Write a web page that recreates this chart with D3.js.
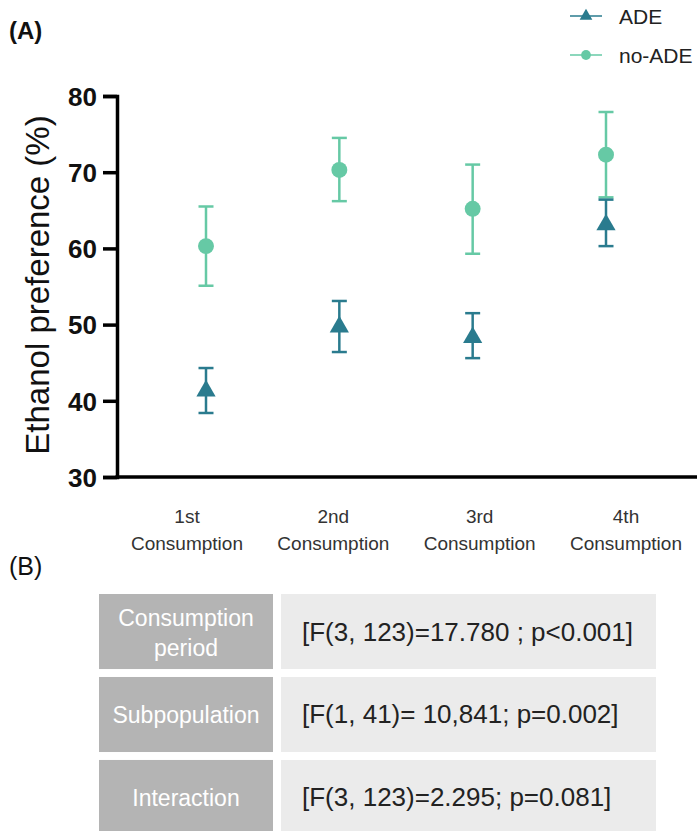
<!DOCTYPE html>
<html>
<head>
<meta charset="utf-8">
<script src="https://cdn.jsdelivr.net/npm/d3@7"></script>
<style>
  html, body { margin: 0; padding: 0; background: #fff; }
  svg { display: block; font-family: "Liberation Sans", Arial, sans-serif; }
</style>
</head>
<body>
<svg width="697" height="831"></svg>
<script>
// data
const periods = ["1st", "2nd", "3rd", "4th"];
const groups = ["ADE", "no-ADE"];
const adeMean = [41.3, 49.7, 48.3, 63.1];
const adeLow = [38.4, 46.4, 45.6, 60.3];
const adeHigh = [44.3, 53.1, 51.5, 66.4];
const noAdeMean = [60.3, 70.3, 65.2, 72.3];
const noAdeLow = [55.1, 66.2, 59.3, 66.7];
const noAdeHigh = [65.5, 74.5, 71.0, 77.9];
const yTicks = [30, 40, 50, 60, 70, 80];

const tableFactors = [["Consumption", "period"], ["Subpopulation"], ["Interaction"]];
const tableStats = [
  "[F(3, 123)=17.780 ; p<0.001]",
  "[F(1, 41)= 10,841; p=0.002]",
  "[F(3, 123)=2.295; p=0.081]"
];

const colADE = "#2a7b8e", colNo = "#66c9a5";

let svg = d3.select("svg");

const x = d3.scalePoint().domain(periods).range([206, 606]);
const xLab = d3.scalePoint().domain(periods).range([187, 626]);
const y = d3.scaleLinear().domain([30, 80]).range([477, 96]);

// panel letters
svg.append("text").attr("x", 9).attr("y", 39)
  .attr("font-size", 24).attr("font-weight", "bold").attr("fill", "#111").text("(A)");
svg.append("text").attr("x", 9).attr("y", 575)
  .attr("font-size", 25).attr("fill", "#111").text("(B)");

// y axis
const yAxis = svg.append("g").attr("transform", "translate(117,0)")
  .call(d3.axisLeft(y).tickValues(yTicks).tickSize(14).tickPadding(6).tickFormat(d3.format("d")));
yAxis.select(".domain").attr("stroke", "#000").attr("stroke-width", 3.5);
yAxis.selectAll(".tick line").attr("stroke", "#000").attr("stroke-width", 3.5);
yAxis.selectAll(".tick text").attr("font-size", 26).attr("font-weight", "bold")
  .attr("fill", "#111").attr("font-family", "Liberation Sans, Arial, sans-serif").attr("dy", "0.36em");

// x axis line
svg.append("line").attr("x1", 115.5).attr("x2", 697).attr("y1", y(30)).attr("y2", y(30))
  .attr("stroke", "#000").attr("stroke-width", 3.5);

svg.append("text")
  .attr("transform", "translate(49,285) rotate(-90)")
  .attr("text-anchor", "middle").attr("font-size", 33).attr("fill", "#111")
  .text("Ethanol preference (%)");

// category labels
const cat = svg.append("g").selectAll("text").data(periods).enter().append("text")
  .attr("text-anchor", "middle").attr("font-size", 19).attr("fill", "#333")
  .attr("x", d => xLab(d));
cat.append("tspan").attr("x", d => xLab(d)).attr("y", 523).text(d => d);
cat.append("tspan").attr("x", d => xLab(d)).attr("y", 550).text("Consumption");

// error bars + markers
const series = [
  { name: "no-ADE", mean: noAdeMean, lo: noAdeLow, hi: noAdeHigh, color: colNo, shape: d3.symbolCircle, size: 200 },
  { name: "ADE", mean: adeMean, lo: adeLow, hi: adeHigh, color: colADE, shape: d3.symbolTriangle, size: 160 }
];

series.forEach(s => {
  const g = svg.append("g");
  const rows = periods.map((p, i) => ({ p, m: s.mean[i], lo: s.lo[i], hi: s.hi[i] }));
  const eb = g.selectAll("g.eb").data(rows).enter().append("g")
    .attr("stroke", s.color).attr("stroke-width", 2.5);
  eb.append("line").attr("x1", d => x(d.p)).attr("x2", d => x(d.p))
    .attr("y1", d => y(d.lo)).attr("y2", d => y(d.hi));
  eb.append("line").attr("x1", d => x(d.p) - 7.5).attr("x2", d => x(d.p) + 7.5)
    .attr("y1", d => y(d.lo)).attr("y2", d => y(d.lo));
  eb.append("line").attr("x1", d => x(d.p) - 7.5).attr("x2", d => x(d.p) + 7.5)
    .attr("y1", d => y(d.hi)).attr("y2", d => y(d.hi));
  g.selectAll("path").data(rows).enter().append("path")
    .attr("d", d3.symbol().type(s.shape).size(s.size))
    .attr("transform", d => `translate(${x(d.p)},${y(d.m)})`)
    .attr("fill", s.color);
});

// legend
const legY = d3.scalePoint().domain(groups).range([16, 55]);
const leg = svg.append("g").selectAll("g").data(groups).enter().append("g")
  .attr("transform", d => `translate(0,${legY(d)})`);
leg.append("line").attr("x1", 570).attr("x2", 602)
  .attr("stroke", d => d === "ADE" ? colADE : colNo).attr("stroke-width", 2).attr("stroke-opacity", 0.75);
leg.append("path")
  .attr("d", d => d3.symbol().type(d === "ADE" ? d3.symbolTriangle : d3.symbolCircle).size(d === "ADE" ? 70 : 75)())
  .attr("transform", "translate(586,0)")
  .attr("fill", d => d === "ADE" ? colADE : colNo);
leg.append("text").attr("x", 619).attr("y", 7.5).attr("font-size", 21).attr("fill", "#222").text(d => d);

// table (B)
const rowY = d3.scaleBand().domain(d3.range(tableStats.length)).range([594, 835]).paddingInner(0.096);
const tb = svg.append("g").selectAll("g").data(tableStats).enter().append("g")
  .attr("transform", (d, i) => `translate(0,${rowY(i)})`);
tb.append("rect").attr("x", 99).attr("width", 174).attr("height", rowY.bandwidth()).attr("fill", "#b4b4b4");
tb.append("rect").attr("x", 281).attr("width", 375).attr("height", rowY.bandwidth()).attr("fill", "#ebebeb");
tb.append("text").attr("x", 302).attr("y", rowY.bandwidth() / 2 + 9)
  .attr("font-size", 26).attr("fill", "#222").text(d => d);
tb.each(function (d, i) {
  const lines = tableFactors[i];
  const mid = rowY.bandwidth() / 2 + 9;
  const t = d3.select(this).append("text").attr("text-anchor", "middle")
    .attr("font-size", 23).attr("fill", "#fff");
  lines.forEach((l, k) => {
    t.append("tspan").attr("x", 186).attr("y", mid + (k - (lines.length - 1) / 2) * 30).text(l);
  });
});
</script>
</body>
</html>
